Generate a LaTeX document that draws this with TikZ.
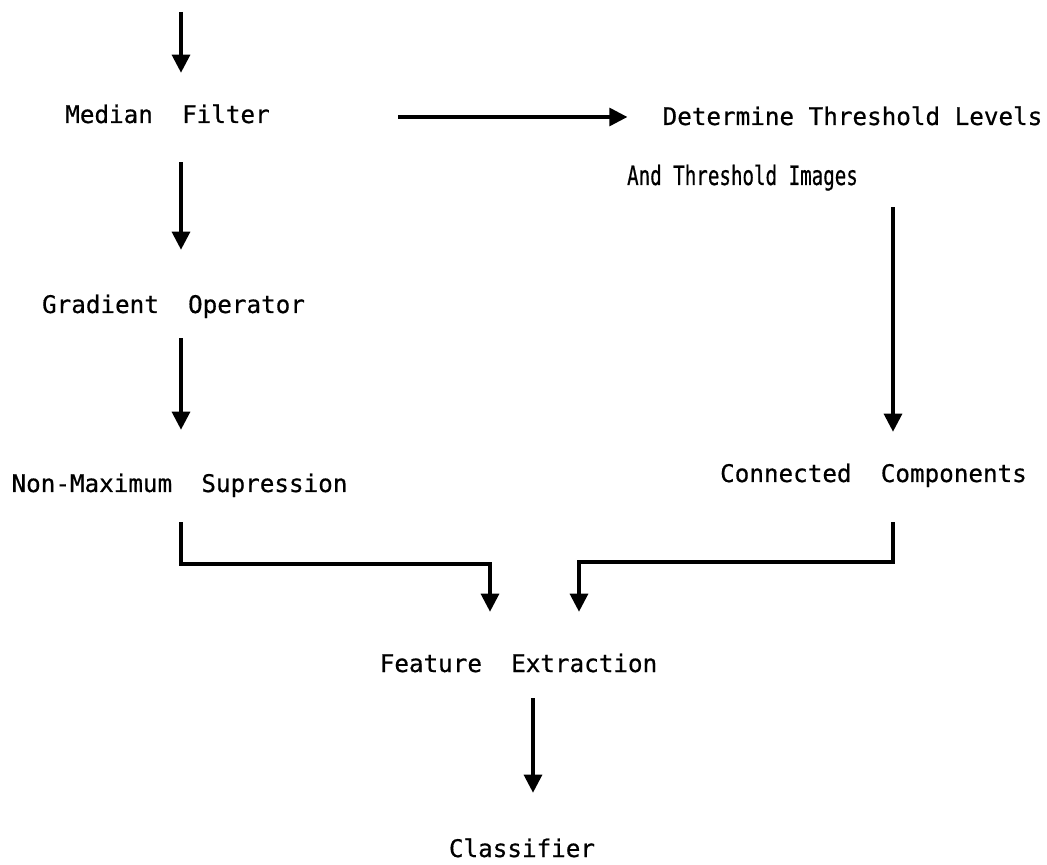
\documentclass[tikz,border=0pt]{standalone}
\usepackage{fontspec}
\usepackage{graphicx}
\newfontfamily\typer[FakeBold=0.6]{DejaVu Sans Mono}
\usetikzlibrary{arrows.meta}

\tikzset{
  lbl/.style={font=\typer\fontsize{17.25pt}{20pt}\selectfont, inner sep=0pt,
    anchor=base, text height=0.425cm, text depth=0.125cm},
  flow/.style={line width=2.2pt, -{Triangle[width=0.45cm,length=0.45cm]}}
}

\begin{document}
\begin{tikzpicture}[x=0.025cm,y=-0.025cm]
\useasboundingbox (0,0) rectangle (1047,865);
% columns of the arrows
\coordinate (lx) at (181,12);
\coordinate (rx) at (893,0);
\coordinate (cx) at (533,0);
\coordinate (jl) at (490,564);
\coordinate (jr) at (579,562);

\node[lbl] (med) at (167.5,123) {Median\ \ Filter};
\node[lbl] (det) at (852.5,125) {Determine Threshold Levels};
\node[lbl] (thr) at (742.5,185) {\scalebox{0.79}[1.1]{And Threshold Images}};
\node[lbl] (grad) at (173.5,313) {Gradient\ \ Operator};
\node[lbl] (nms) at (179.5,492) {Non-Maximum\ \ Supression};
\node[lbl] (con) at (873.5,482) {Connected\ \ Components};
\node[lbl] (feat) at (518.5,672) {Feature\ \ Extraction};
\node[lbl] (cls) at (522,857) {Classifier};

% left branch
\draw[flow, shorten >=0.825cm] (lx) -- (lx |- med.north);
\draw[flow, shorten <=0.85cm, shorten >=1.15cm] (med.south -| lx) -- (grad.north -| lx);
\draw[flow, shorten <=0.5cm, shorten >=1.125cm] (grad.south -| lx) -- (nms.north -| lx);
% right branch
\draw[flow, shorten <=3.2cm, shorten >=0.875cm] (med.east) -- (med.east -| det.west);
\draw[flow, shorten <=0.425cm, shorten >=0.825cm] (thr.south -| rx) -- (con.north -| rx);
% joining
\draw[flow, shorten <=0.625cm, shorten >=1.075cm] (nms.south -| lx) |- (jl) -- (jl |- feat.north);
\draw[flow, shorten <=0.875cm, shorten >=1.075cm] (con.south -| rx) |- (jr) -- (jr |- feat.north);
\draw[flow, shorten <=0.525cm, shorten >=1.175cm] (feat.south -| cx) -- (cls.north -| cx);
\end{tikzpicture}
\end{document}
